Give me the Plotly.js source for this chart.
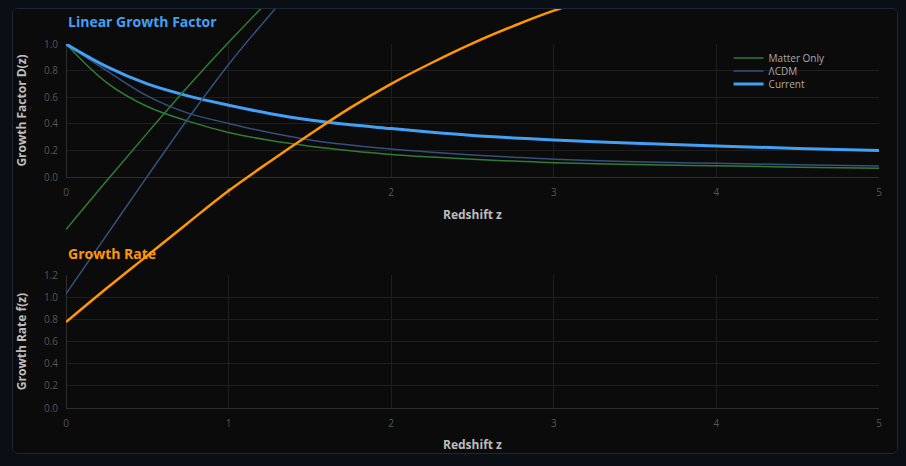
<!DOCTYPE html>
<html>
<head>
<meta charset="utf-8">
<script src="https://cdn.plot.ly/plotly-3.0.1.min.js"></script>
<style>
  html, body { margin: 0; padding: 0; background: #0a0e15; width: 906px; height: 466px; overflow: hidden; }
  #panel { position: absolute; left: 12px; top: 8px; width: 884px; height: 444px; border: 1px solid #1e2736; border-radius: 6px; background: #0b0b0b; overflow: hidden; }
  #chart { position: absolute; left: 0; top: 0; width: 884px; height: 444px; }
</style>
</head>
<body>
<div id="panel"><div id="chart"></div></div>
<script>
// Redshift samples
const redshift = [0, 0.25, 0.5, 0.75, 1, 1.25, 1.5, 1.75, 2, 2.25, 2.5, 2.75, 3, 3.5, 4, 4.5, 5];

// Growth factor D(z)
const dMatterOnly = [1, 0.71, 0.53, 0.42, 0.335, 0.276, 0.232, 0.198, 0.17, 0.15, 0.133, 0.12, 0.108, 0.094, 0.084, 0.074, 0.066];
const dLCDM       = [1, 0.80, 0.61, 0.48, 0.403, 0.334, 0.279, 0.24, 0.21, 0.186, 0.166, 0.149, 0.134, 0.115, 0.103, 0.092, 0.083];
const dCurrent    = [1, 0.83, 0.70, 0.61, 0.54, 0.478, 0.428, 0.392, 0.364, 0.336, 0.312, 0.294, 0.279, 0.254, 0.233, 0.215, 0.20];

// Growth rate f(z)
const fMatterOnly = [1.61, 2.05, 2.48, 2.90, 3.30, 3.68, 4.05, 4.41, 4.75, 5.08, 5.40, 5.71, 6.00, 6.55, 7.05, 7.50, 7.90];
const fLCDM       = [1.03, 1.56, 2.09, 2.61, 3.10, 3.54, 3.95, 4.34, 4.70, 5.03, 5.35, 5.63, 5.90, 6.40, 6.85, 7.25, 7.60];
const fCurrent    = [0.775, 1.08, 1.375, 1.67, 1.96, 2.22, 2.47, 2.71, 2.925, 3.115, 3.29, 3.445, 3.585, 3.81, 3.98, 4.12, 4.22];

const seriesNames = ['Matter Only', 'ΛCDM', 'Current'];
const xTicks = [0, 1, 2, 3, 4, 5];

const cGreen = '#2f7d34';
const cNavy = '#34507f';
const cBlue = '#42a0f5';
const cOrange = '#ff9800';

// Plot area geometry (pixels inside the chart div)
const W = 884, H = 444;
const M = {l: 53, r: 18, t: 0, b: 45};
const plotH = H - M.t - M.b;           // 399
const topDomain = [1 - 168 / plotH, 1 - 35 / plotH];
const botDomain = [0, 133 / plotH];
const fRange = [0, 1.2];
// overlay axis spanning the whole height with the same scale as the growth-rate axis
const fFullMax = fRange[1] * plotH / 133;

const traces = [
  {x: redshift, y: dMatterOnly, name: seriesNames[0], legend: 'legend', mode: 'lines', line: {color: cGreen, width: 1.5, shape: 'spline'}, xaxis: 'x', yaxis: 'y'},
  {x: redshift, y: dLCDM, name: seriesNames[1], legend: 'legend2', mode: 'lines', line: {color: cNavy, width: 1.5, shape: 'spline'}, xaxis: 'x', yaxis: 'y'},
  {x: redshift, y: dCurrent, name: seriesNames[2], legend: 'legend3', mode: 'lines', line: {color: cBlue, width: 3, shape: 'spline'}, xaxis: 'x', yaxis: 'y'},
  // empty placeholder so the growth-rate axes get their own drawn subplot
  {x: [], y: [], mode: 'lines', showlegend: false, hoverinfo: 'skip', xaxis: 'x2', yaxis: 'y2'},
  {x: redshift, y: fMatterOnly, name: seriesNames[0], mode: 'lines', showlegend: false, line: {color: cGreen, width: 1.5, shape: 'spline'}, xaxis: 'x3', yaxis: 'y3'},
  {x: redshift, y: fLCDM, name: seriesNames[1], mode: 'lines', showlegend: false, line: {color: cNavy, width: 1.5, shape: 'spline'}, xaxis: 'x3', yaxis: 'y3'},
  {x: redshift, y: fCurrent, name: seriesNames[2], mode: 'lines', showlegend: false, line: {color: cOrange, width: 2.5, shape: 'spline'}, xaxis: 'x3', yaxis: 'y3'}
];

const tickFont = {family: 'Open Sans, sans-serif', size: 10, color: '#555'};
const axTitleFont = {family: 'Open Sans, sans-serif', size: 12, color: '#bdbdbd', weight: 'bold'};

function xAxis(anchor) {
  return {
    anchor: anchor, domain: [0, 1], range: [0, 5], tickvals: xTicks, ticktext: xTicks.map(String),
    showgrid: true, gridcolor: '#1f1f1f', zeroline: true, zerolinecolor: '#2e2e2e', zerolinewidth: 1,
    showline: false, ticks: 'outside', ticklen: 6, tickcolor: 'rgba(0,0,0,0)', tickfont: tickFont,
    title: {text: 'Redshift z', font: axTitleFont, standoff: 12}
  };
}
function yAxis(anchor, domain, range, title) {
  return {
    anchor: anchor, domain: domain, range: range, dtick: 0.2, tickformat: '.1f',
    showgrid: true, gridcolor: '#1f1f1f', zeroline: true, zerolinecolor: '#2e2e2e',
    ticks: 'outside', ticklen: 5, tickcolor: 'rgba(0,0,0,0)', tickfont: tickFont,
    title: {text: title, font: axTitleFont, standoff: 16}
  };
}
function legendAt(pixelY) {
  return {x: 0.815, y: (408 - pixelY) / plotH, xanchor: 'left', yanchor: 'middle',
          bgcolor: 'rgba(0,0,0,0)', borderwidth: 0, font: {size: 10, color: '#aaa'}};
}

const layout = {
  width: W, height: H,
  paper_bgcolor: '#0b0b0b', plot_bgcolor: 'rgba(0,0,0,0)',
  margin: M,
  font: {family: 'Open Sans, sans-serif', color: '#aaa'},
  showlegend: true,
  legend: legendAt(58),
  legend2: legendAt(71),
  legend3: legendAt(84),
  xaxis: xAxis('y'),
  xaxis2: xAxis('y2'),
  xaxis3: {anchor: 'y3', domain: [0, 1], range: [0, 5], showgrid: false, zeroline: false, showticklabels: false, ticks: ''},
  yaxis: yAxis('x', topDomain, [0, 1], 'Growth Factor D(z)'),
  yaxis2: yAxis('x2', botDomain, fRange, 'Growth Rate f(z)'),
  yaxis3: {anchor: 'x3', domain: [0, 1], range: [0, fFullMax], showgrid: false, zeroline: false, showticklabels: false, ticks: ''},
  annotations: [
    {text: 'Linear Growth Factor', xref: 'paper', yref: 'paper', x: 0, y: (408 - 21) / plotH, xanchor: 'left', yanchor: 'middle', showarrow: false,
     font: {family: 'Open Sans, sans-serif', size: 14, color: '#42a0f5', weight: 'bold'}},
    {text: 'Growth Rate', xref: 'paper', yref: 'paper', x: 0, y: (408 - 253) / plotH, xanchor: 'left', yanchor: 'middle', showarrow: false,
     font: {family: 'Open Sans, sans-serif', size: 14, color: '#ff9800', weight: 'bold'}}
  ]
};

Plotly.newPlot('chart', traces, layout, {displayModeBar: false, staticPlot: true});
</script>
</body>
</html>
